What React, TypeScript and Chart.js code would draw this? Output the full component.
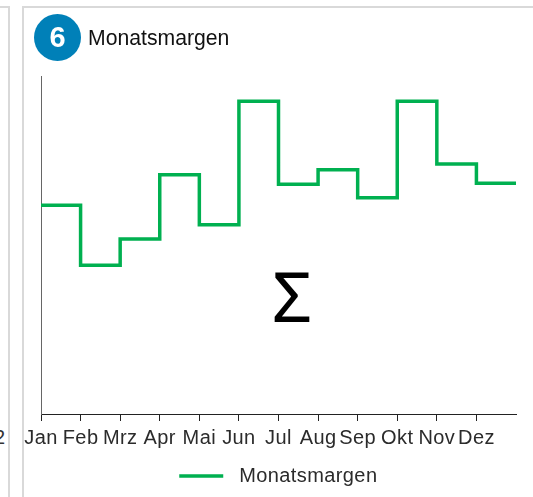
import React, { useEffect, useRef } from "react";
import { Chart, registerables } from "chart.js";

Chart.register(...registerables);

const months = ["Jan", "Feb", "Mrz", "Apr", "Mai", "Jun", "Jul", "Aug", "Sep", "Okt", "Nov", "Dez", ""];
const margins = [24.7, 17.6, 20.7, 28.3, 22.4, 37.0, 27.2, 28.9, 25.6, 37.0, 29.6, 27.3, 27.3];
const seriesName = "Monatsmargen";
const font = '"Liberation Sans", Arial, sans-serif';

const spacing = {
  id: "spacing",
  beforeDraw(chart: any) {
    chart.ctx.letterSpacing = "0.4px";
  },
};

export default function App() {
  const ref = useRef<HTMLCanvasElement>(null);
  useEffect(() => {
    const chart = new Chart(ref.current!, {
      type: "line",
      plugins: [spacing],
      data: {
        labels: months,
        datasets: [
          {
            label: seriesName,
            data: margins,
            stepped: "before",
            borderColor: "#00b050",
            backgroundColor: "#00b050",
            borderWidth: 3.5,
            pointRadius: 0,
          },
        ],
      },
      options: {
        animation: false,
        responsive: false,
        layout: { padding: { left: 41, right: 17, top: 76, bottom: 1 } },
        scales: {
          x: {
            offset: false,
            afterFit: (s: any) => {
              s.height = 40;
            },
            grid: {
              drawOnChartArea: false,
              tickLength: 7,
              tickColor: (c: any) => (c.index === 12 ? "rgba(0,0,0,0)" : "#222222"),
            },
            border: { color: "#222222", width: 1 },
            ticks: {
              autoSkip: false,
              maxRotation: 0,
              color: "#2b2b2b",
              font: { family: font, size: 20 },
              padding: 5,
            },
          },
          y: {
            min: 0,
            max: 40,
            afterFit: (s: any) => {
              s.width = 0;
            },
            grid: { display: false },
            border: { color: "#666666", width: 1 },
            ticks: { display: false },
          },
        },
        plugins: {
          title: { display: false },
          tooltip: { enabled: false },
          legend: {
            position: "bottom",
            labels: {
              boxWidth: 44,
              boxHeight: 0,
              color: "#2b2b2b",
              font: { family: font, size: 20 },
              padding: 12,
              generateLabels: (c: any) =>
                Chart.defaults.plugins.legend.labels.generateLabels(c).map((l: any) => ({ ...l, text: " " + l.text + " " })),
            },
          },
        },
      },
    } as any);
    return () => chart.destroy();
  }, []);

  return (
    <div style={{ position: "fixed", left: 0, top: 0, width: 533, height: 497, background: "#fff", overflow: "hidden" }}>
      <div style={{ position: "absolute", left: 0, top: 6, width: 10, height: 2, background: "#d9d9d9" }} />
      <div style={{ position: "absolute", left: 8, top: 6, width: 2, height: 491, background: "#d9d9d9" }} />
      <div style={{ position: "absolute", left: 22, top: 6, width: 2, height: 491, background: "#d9d9d9" }} />
      <div style={{ position: "absolute", left: 22, top: 6, width: 511, height: 2, background: "#d9d9d9" }} />
      <div style={{ position: "absolute", left: -6, top: 426, fontFamily: font, fontSize: 20, color: "#333" }}>2</div>
      <canvas ref={ref} width={533} height={497} style={{ position: "absolute", left: 0, top: 0 }} />
      <div
        style={{
          position: "absolute", left: 34, top: 14, width: 47, height: 47, borderRadius: "50%", background: "#0080b8",
          color: "#fff", fontFamily: font, fontWeight: 700, fontSize: 29, lineHeight: "47px", textAlign: "center",
        }}
      >
        6
      </div>
      <div style={{ position: "absolute", left: 88, top: 25, fontFamily: font, fontSize: 21.2, lineHeight: "26px", color: "#111" }}>
        Monatsmargen
      </div>
      <div style={{ position: "absolute", left: 252, top: 255, width: 80, textAlign: "center", fontFamily: '"Noto Sans"', fontSize: 70, lineHeight: "80px", color: "#000" }}>
        Σ
      </div>
    </div>
  );
}
